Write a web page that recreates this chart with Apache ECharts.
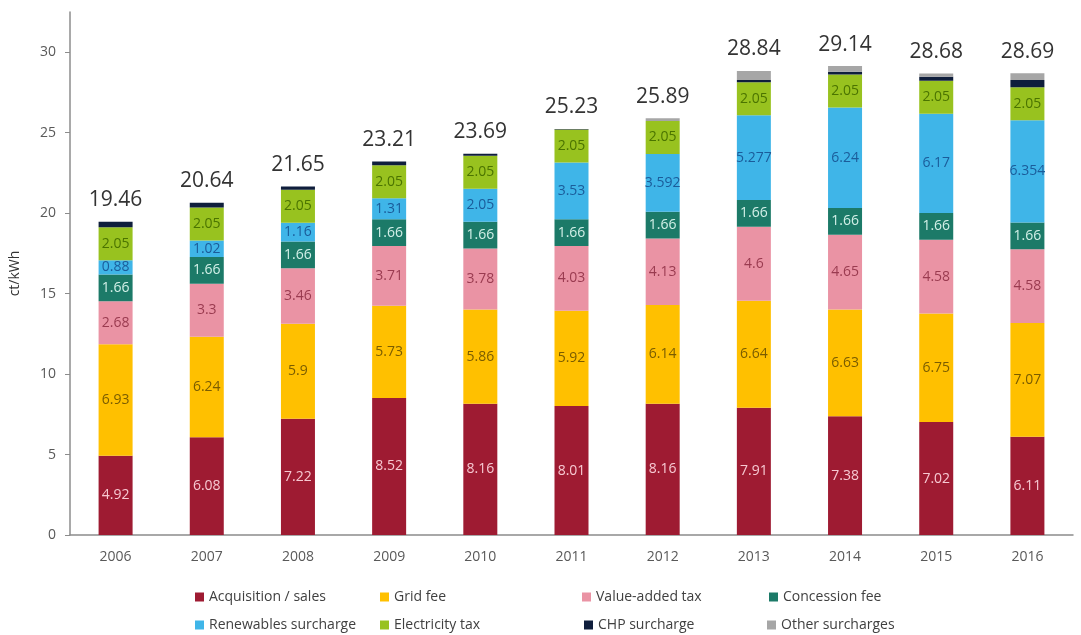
<!DOCTYPE html>
<html>
<head>
<meta charset="utf-8">
<script src="https://cdn.jsdelivr.net/npm/echarts@6/dist/echarts.min.js"></script>
<style>
html,body{margin:0;padding:0;background:#fff;}
#chart{width:1081px;height:635px;}
</style>
</head>
<body>
<div id="chart"></div>
<script>
const years = ['2006','2007','2008','2009','2010','2011','2012','2013','2014','2015','2016'];
const acquisition = [4.92,6.08,7.22,8.52,8.16,8.01,8.16,7.91,7.38,7.02,6.11];
const gridFee = [6.93,6.24,5.9,5.73,5.86,5.92,6.14,6.64,6.63,6.75,7.07];
const vat = [2.68,3.3,3.46,3.71,3.78,4.03,4.13,4.6,4.65,4.58,4.58];
const concession = [1.66,1.66,1.66,1.66,1.66,1.66,1.66,1.66,1.66,1.66,1.66];
const renewables = [0.88,1.02,1.16,1.31,2.05,3.53,3.592,5.277,6.24,6.17,6.354];
const electricityTax = [2.05,2.05,2.05,2.05,2.05,2.05,2.05,2.05,2.05,2.05,2.05];
const chp = [0.34,0.29,0.20,0.23,0.13,0.03,0.002,0.13,0.18,0.25,0.45];
const otherSurcharges = [0,0,0,0,0,0,0.156,0.573,0.35,0.20,0.416];
const totals = [19.46,20.64,21.65,23.21,23.69,25.23,25.89,28.84,29.14,28.68,28.69];
const yTicks = [0,5,10,15,20,25,30];

const FONT = 'Open Sans';
const BW = 34;

function seg(name, data, color, labelColor) {
  return {
    name: name, type: 'bar', stack: 'total', data: data, barWidth: BW,
    itemStyle: { color: color },
    label: labelColor ? {
      show: true, position: 'inside', color: labelColor,
      fontFamily: FONT, fontSize: 14,
      formatter: p => String(p.value)
    } : { show: false },
    emphasis: { disabled: true }
  };
}

const chart = echarts.init(document.getElementById('chart'));
const legendText = { fontFamily: FONT, fontSize: 14, color: '#404040', lineHeight: 16 };
function legendItem(left, top, name) {
  return {
    left: left, top: top, padding: 0,
    itemWidth: 9, itemHeight: 9, itemGap: 0, icon: 'rect', itemStyle: { borderWidth: 0 },
    textStyle: legendText, data: [name], selectedMode: false
  };
}
chart.setOption({
  animation: false,
  grid: { left: 68, right: 8, top: 12, bottom: 100, containLabel: false },
  legend: [
    legendItem(195, 589, 'Acquisition / sales'),
    legendItem(380, 589, 'Grid fee'),
    legendItem(582, 589, 'Value-added tax'),
    legendItem(769, 589, 'Concession fee'),
    legendItem(195, 617, 'Renewables surcharge'),
    legendItem(380, 617, 'Electricity tax'),
    legendItem(584, 617, 'CHP surcharge'),
    legendItem(767, 617, 'Other surcharges')
  ],
  xAxis: {
    type: 'category', data: years,
    axisLine: { lineStyle: { color: '#8c8c8c', width: 1.5 } },
    axisTick: { show: false },
    axisLabel: { fontFamily: FONT, fontSize: 14, color: '#595959', margin: 15 }
  },
  yAxis: {
    type: 'value', min: 0, max: 32.5,
    name: 'ct/kWh', nameLocation: 'middle', nameGap: 48, nameRotate: 90,
    nameTextStyle: { fontFamily: FONT, fontSize: 14, color: '#333333' },
    axisLine: { show: true, lineStyle: { color: '#8c8c8c', width: 1.5 } },
    axisTick: { show: true, length: 5, lineStyle: { color: '#8c8c8c' }, customValues: yTicks },
    axisLabel: { fontFamily: FONT, fontSize: 14, color: '#595959', margin: 14, customValues: yTicks },
    splitLine: { show: false }
  },
  series: [
    {
      name: 'Total', type: 'bar', data: totals, barWidth: BW, barGap: '-100%',
      itemStyle: { color: 'rgba(0,0,0,0)' }, z: 10, silent: true,
      label: { show: true, position: 'top', distance: 11, fontFamily: FONT, fontSize: 21, color: '#333333' }
    },
    seg('Acquisition / sales', acquisition, '#9e1b32', '#f7c9d2'),
    seg('Grid fee', gridFee, '#ffc000', '#7a5c00'),
    seg('Value-added tax', vat, '#ea93a4', '#9a3b50'),
    seg('Concession fee', concession, '#1c7a68', '#d3f0e8'),
    seg('Renewables surcharge', renewables, '#3fb5e8', '#1b5c9a'),
    seg('Electricity tax', electricityTax, '#98c21f', '#4b7400'),
    seg('CHP surcharge', chp, '#0f1e3c', null),
    seg('Other surcharges', otherSurcharges, '#a6a6a6', null)
  ]
});
</script>
</body>
</html>
